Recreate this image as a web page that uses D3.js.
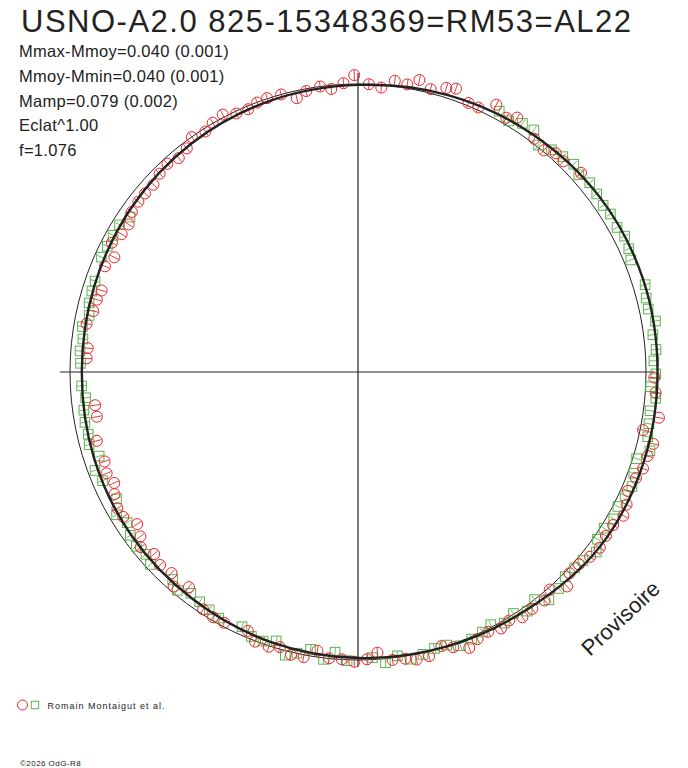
<!DOCTYPE html>
<html>
<head>
<meta charset="utf-8">
<script src="https://cdn.jsdelivr.net/npm/d3@7"></script>
<style>
  body { margin: 0; background: #fff; }
  svg { display: block; font-family: "Liberation Sans", Arial, sans-serif; }
</style>
</head>
<body>
<svg id="chart" width="688" height="768"></svg>
<script>
// Titles and statistics
var title = "USNO-A2.0 825-15348369=RM53=AL22";
var statLines = ["Mmax-Mmoy=0.040 (0.001)", "Mmoy-Mmin=0.040 (0.001)", "Mamp=0.079 (0.002)", "Eclat^1.00", "f=1.076"];
var legendLabel = "Romain Montaigut et al.";
var copyright = "\u00a92026 OdG-R8";
var stamp = "Provisoire";

// Fitted light curve: phase (0..1) and magnitude offset from mean
var fitPhase = [0.00, 0.05, 0.10, 0.15, 0.20, 0.25, 0.30, 0.35, 0.40, 0.45,
                0.50, 0.55, 0.60, 0.65, 0.70, 0.75, 0.80, 0.85, 0.90, 0.95];
var fitMag   = [0.003, -0.011, -0.024, -0.036, -0.041, -0.040, -0.040, -0.036, -0.013, -0.002,
                0.007, 0.015, 0.025, 0.030, 0.036, 0.041, 0.037, 0.028, 0.018, 0.010];

// Observations, series 1 (red circles)
var redPhase = [0.006,0.013,0.020,0.027,0.033,0.040,0.048,0.053,0.062,0.068,0.076,0.084,0.089,0.103,0.111,0.117,0.123,0.134,
  0.253,0.261,0.274,0.282,0.288,0.295,0.302,0.308,0.316,0.323,0.329,0.336,0.343,0.350,0.357,0.364,0.371,0.377,0.385,0.391,0.399,
  0.406,0.413,0.419,0.426,0.433,0.439,0.447,0.453,0.461,0.468,0.474,0.481,0.489,0.495,0.502,0.509,0.516,0.523,0.530,0.537,0.544,
  0.550,0.558,0.564,0.578,0.585,0.592,0.606,0.613,0.619,0.627,0.634,0.642,0.647,0.654,0.662,0.668,0.676,0.682,0.689,0.696,0.709,
  0.723,0.730,0.758,0.764,0.778,0.786,0.793,0.799,0.813,0.820,0.827,0.834,0.841,0.848,0.855,0.861,0.868,0.875,0.882,0.889,0.896,
  0.902,0.910,0.916,0.923,0.930,0.937,0.943,0.949,0.957,0.965,0.971,0.979,0.985,0.992,0.998];
var redMag = [0.000,0.009,-0.019,-0.013,-0.036,-0.014,-0.033,-0.041,-0.010,-0.009,-0.045,-0.022,-0.042,-0.015,-0.004,-0.024,-0.022,-0.038,
  -0.029,-0.036,-0.057,-0.010,-0.055,-0.047,-0.045,-0.033,-0.024,-0.040,-0.048,-0.033,-0.032,-0.038,-0.030,-0.017,-0.014,-0.040,-0.007,-0.024,-0.021,
  -0.025,-0.010,-0.020,-0.009,-0.016,-0.033,-0.011,0.005,-0.017,-0.019,-0.009,-0.007,0.023,0.002,-0.006,0.001,0.001,0.022,-0.008,-0.009,0.007,
  -0.003,-0.002,0.023,0.013,0.011,0.016,0.050,0.018,0.048,0.040,0.051,0.031,0.053,0.069,0.042,0.040,0.054,0.070,0.059,0.067,0.062,
  0.080,0.080,0.057,0.058,0.043,0.057,0.059,0.066,0.048,0.065,0.035,0.050,0.053,0.038,0.035,0.035,0.037,0.026,0.020,0.031,0.022,
  0.001,0.011,-0.002,-0.010,0.008,0.011,0.001,-0.002,0.000,0.026,0.008,0.000,0.013,-0.004,-0.031];

// Observations, series 2 (green squares)
var greenPhase = [0.079,0.086,0.093,0.100,0.107,0.114,0.121,0.128,0.134,0.141,0.148,0.155,0.161,0.169,0.175,0.182,0.188,
  0.203,0.210,0.216,0.223,0.230,0.238,0.244,0.251,0.258,0.264,0.271,0.278,0.285,0.292,0.298,0.306,0.313,0.319,0.326,0.333,
  0.340,0.347,0.353,0.361,0.367,0.374,0.381,0.389,0.395,0.402,0.409,0.416,0.423,0.429,0.436,0.443,0.450,0.457,0.464,0.471,
  0.478,0.485,0.492,0.506,0.513,0.519,0.527,0.534,0.540,0.547,0.554,0.561,0.568,0.582,0.589,0.596,0.603,0.610,0.616,0.631,
  0.637,0.644,0.651,0.658,0.665,0.673,0.686,0.693,0.700,0.708,0.714,0.721,0.728,0.735,0.742,0.755,0.762,0.769,0.776,0.783,
  0.790,0.797,0.803,0.817,0.824,0.831,0.838,0.845];
var greenMag = [-0.030,-0.017,-0.035,-0.039,-0.007,-0.023,-0.032,-0.040,-0.028,-0.039,-0.034,-0.029,-0.034,-0.030,-0.039,-0.033,-0.024,
  -0.042,-0.033,-0.031,-0.048,-0.032,-0.038,-0.028,-0.034,-0.017,-0.038,-0.023,-0.026,-0.031,-0.050,-0.013,-0.020,-0.031,-0.022,-0.016,-0.024,
  -0.012,-0.014,-0.037,-0.019,-0.014,-0.011,-0.025,-0.032,0.000,-0.017,0.003,-0.009,0.009,-0.001,-0.008,-0.015,0.003,0.004,-0.006,-0.014,
  0.005,-0.014,0.007,-0.003,0.024,-0.005,0.023,0.001,-0.015,0.024,0.009,0.010,0.028,0.018,0.026,0.031,0.037,0.016,0.034,0.017,
  0.029,0.021,0.027,0.043,0.026,0.053,0.036,0.025,0.055,0.033,0.039,0.036,0.039,0.050,0.039,0.036,0.032,0.038,0.030,0.046,
  0.036,0.034,0.034,0.024,0.026,0.026,0.027,0.043];

var redColor = "#e8262c";
var greenColor = "#5bb44b";
var inkColor = "#222";

var svg = d3.select("#chart");
var cx = 358, cy = 372, R0 = 288;

// phase -> angle (0 at top, clockwise) ; magnitude offset -> radius
var aScale = d3.scaleLinear().domain([0, 1]).range([0, 2 * Math.PI]);
var rScale = d3.scaleLinear().domain([0, 0.1]).range([R0, R0 * 0.9]);

var plot = svg.append("g").attr("transform", "translate(" + cx + "," + cy + ")");

function px(p, m){ return rScale(m) * Math.sin(aScale(p)); }
function py(p, m){ return -rScale(m) * Math.cos(aScale(p)); }

//axes
var axR = rScale(-0.035);
plot.append("line").attr("x1", -axR).attr("x2", axR - 2).attr("y1", 0).attr("y2", 0)
  .attr("stroke", inkColor).attr("stroke-width", 1);
plot.append("line").attr("x1", 0).attr("x2", 0).attr("y1", -axR - 1).attr("y2", axR - 3)
  .attr("stroke", inkColor).attr("stroke-width", 1.2);

//reference circle (mean magnitude)
plot.append("circle").attr("r", rScale(0)).attr("fill", "none")
  .attr("stroke", inkColor).attr("stroke-width", 1);

//observations
function drawSeries(phases, mags, color, shape){
  var pts = phases.map(function(p, i){ return {p: p, m: mags[i]}; });
  var g = plot.append("g");
  var mk = g.selectAll("g").data(pts).enter().append("g")
    .attr("transform", function(d){ return "translate(" + px(d.p, d.m) + "," + py(d.p, d.m) + ")"; });
  if (shape === "circle") {
    mk.append("circle").attr("r", 5.5).attr("fill", "none").attr("stroke", color).attr("stroke-width", 1);
  } else {
    mk.append("rect").attr("x", -4.8).attr("y", -4.8).attr("width", 9.6).attr("height", 9.6)
      .attr("fill", "none").attr("stroke", color).attr("stroke-width", 1);
  }
  //radial tick through the marker
  var len = shape === "circle" ? 5 : 4.5;
  mk.append("line")
    .attr("x1", function(d){ return -len * Math.sin(aScale(d.p)); })
    .attr("y1", function(d){ return len * Math.cos(aScale(d.p)); })
    .attr("x2", function(d){ return len * Math.sin(aScale(d.p)); })
    .attr("y2", function(d){ return -len * Math.cos(aScale(d.p)); })
    .attr("stroke", color).attr("stroke-width", 0.9);
}
drawSeries(greenPhase, greenMag, greenColor, "square");
drawSeries(redPhase, redMag, redColor, "circle");

//fitted curve
var fitLine = d3.lineRadial()
  .angle(function(d){ return aScale(d[0]); })
  .radius(function(d){ return rScale(d[1]); })
  .curve(d3.curveCatmullRomClosed);
plot.append("path")
  .datum(fitPhase.map(function(p, i){ return [p, fitMag[i]]; }))
  .attr("d", fitLine)
  .attr("fill", "none").attr("stroke", inkColor).attr("stroke-width", 2.4);

//texts
svg.append("text").attr("x", 21).attr("y", 32).text(title)
  .attr("font-size", 31).attr("letter-spacing", 1.5).attr("fill", inkColor);

svg.selectAll(".stat").data(statLines).enter().append("text")
  .attr("class", "stat")
  .attr("x", 19).attr("y", function(d, i){ return 57 + i * 24.8; })
  .text(function(d){ return d; })
  .attr("font-size", 16.5).attr("letter-spacing", 0.3).attr("fill", inkColor);

svg.append("text").text(stamp)
  .attr("transform", "translate(590,657) rotate(-43)")
  .attr("font-size", 22).attr("fill", inkColor);

//legend
svg.append("circle").attr("cx", 22.5).attr("cy", 705).attr("r", 5)
  .attr("fill", "none").attr("stroke", redColor);
svg.append("rect").attr("x", 31.3).attr("y", 701.3).attr("width", 7.4).attr("height", 7.4)
  .attr("fill", "none").attr("stroke", greenColor);
svg.append("text").attr("x", 47.5).attr("y", 709).text(legendLabel)
  .attr("font-size", 9).attr("letter-spacing", 1).attr("fill", inkColor);

svg.append("text").attr("x", 20).attr("y", 766).text(copyright)
  .attr("font-size", 8).attr("letter-spacing", 0.45).attr("fill", inkColor);
</script>
</body>
</html>
